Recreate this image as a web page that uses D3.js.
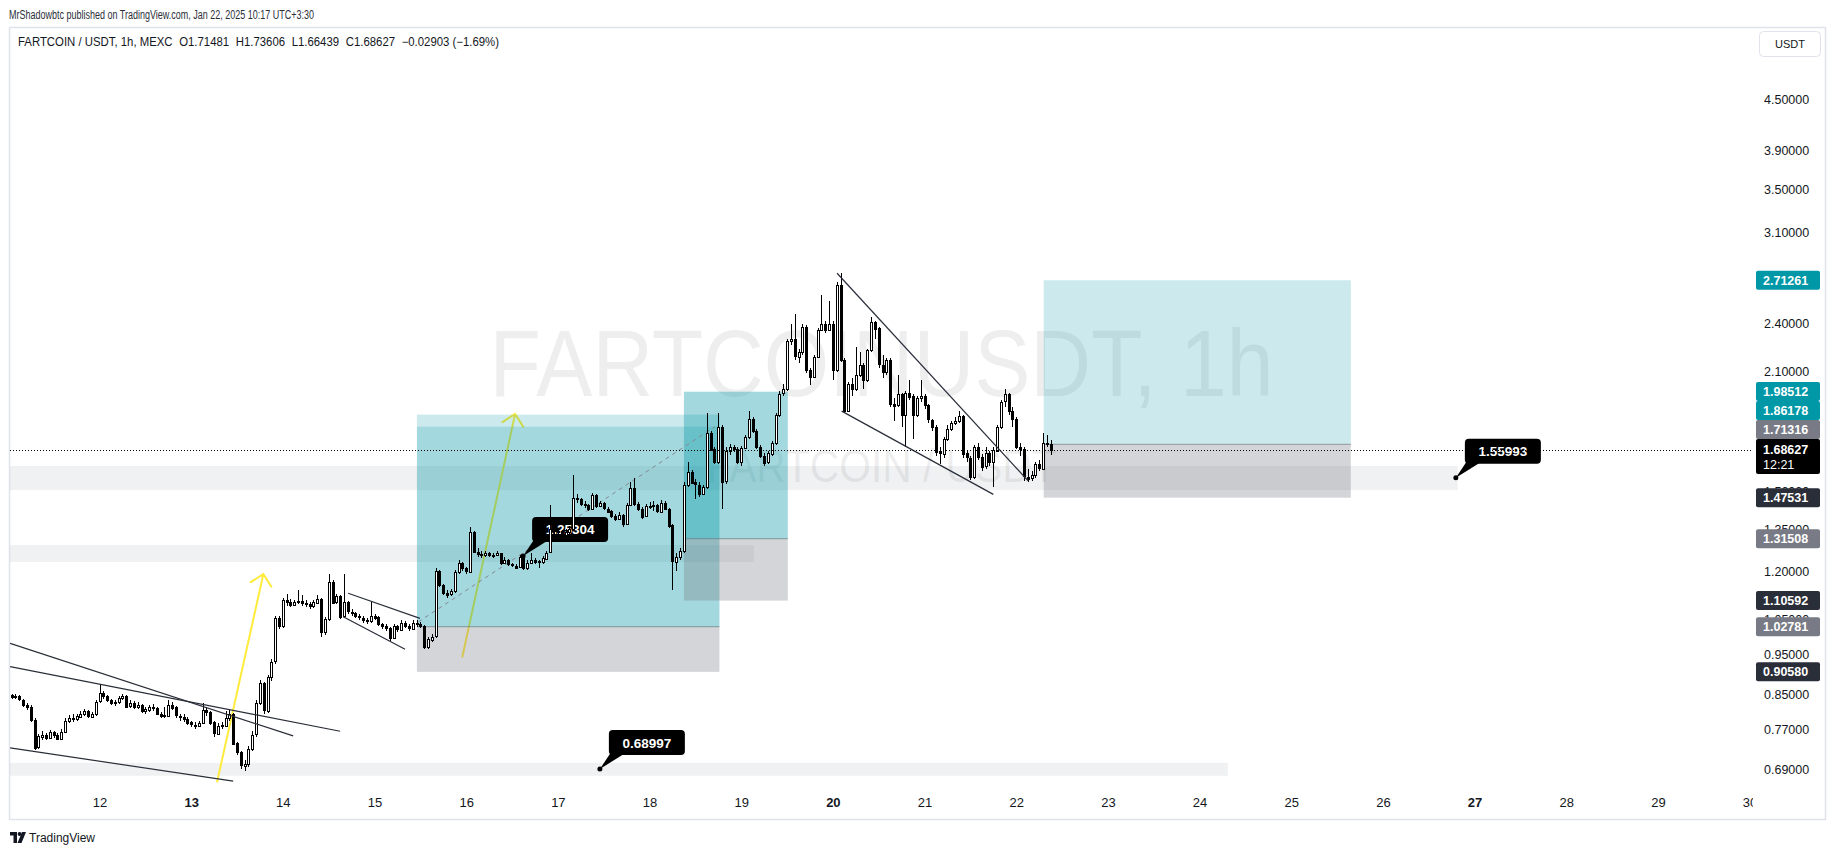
<!DOCTYPE html>
<html><head><meta charset="utf-8">
<script src="https://cdn.jsdelivr.net/npm/d3@7/dist/d3.min.js"></script>
<style>
html,body{margin:0;padding:0;background:#fff;}
svg{display:block;}
text{font-family:"Liberation Sans",Arial,sans-serif;}
</style></head><body>
<svg id="chart" width="1835" height="855"></svg>
<script>
// ================= DATA =================
const publishLine = "MrShadowbtc published on TradingView.com, Jan 22, 2025 10:17 UTC+3:30";
const symbolLine = "FARTCOIN / USDT, 1h, MEXC";
const ohlcLabels = ["O1.71481", "H1.73606", "L1.66439", "C1.68627", "\u22120.02903 (\u22121.69%)"];
const watermarkMain = "FARTCOINUSDT, 1h";
const watermarkSub = "FARTCOIN / USDT";

// hourly candles, first one = 2025-01-11 01:00
const firstCandleUTC = Date.UTC(2025, 0, 11, 1);
const firstOpen = 0.85;
const closes = [
 // Jan 11 (01:00-23:00)
 0.845,0.846,0.838,0.826,0.822,0.792,0.733,0.756,0.760,0.754,0.766,0.760,0.752,0.766,0.790,0.796,0.793,0.800,0.806,0.812,0.800,0.806,0.833,
 // Jan 12
 0.853,0.846,0.836,0.830,0.833,0.842,0.847,0.822,0.830,0.821,0.826,0.812,0.816,0.822,0.819,0.806,0.801,0.802,0.826,0.820,0.801,0.799,0.794,0.786,
 // Jan 13
 0.781,0.779,0.785,0.815,0.810,0.786,0.762,0.779,0.780,0.797,0.806,0.742,0.723,0.697,0.700,0.730,0.760,0.830,0.877,0.812,0.893,0.932,1.052,1.030,
 // Jan 14
 1.107,1.100,1.092,1.100,1.104,1.098,1.094,1.088,1.100,1.112,1.013,1.050,1.166,1.100,1.120,1.057,1.100,1.072,1.068,1.058,1.054,1.048,1.045,1.060,
 // Jan 15
 1.055,1.035,1.030,1.024,0.995,1.030,1.020,1.040,1.030,1.024,1.040,1.036,1.030,0.970,0.992,1.000,1.200,1.155,1.130,1.125,1.135,1.198,1.228,1.210,
 // Jan 16
 1.200,1.341,1.268,1.260,1.255,1.262,1.256,1.254,1.262,1.228,1.240,1.225,1.220,1.214,1.250,1.212,1.230,1.240,1.234,1.230,1.245,1.265,1.350,1.345,
 // Jan 17
 1.340,1.330,1.340,1.352,1.473,1.470,1.450,1.445,1.430,1.486,1.440,1.452,1.430,1.420,1.400,1.390,1.405,1.370,1.445,1.516,1.450,1.430,1.400,1.440,
 // Jan 18
 1.440,1.445,1.420,1.455,1.430,1.365,1.233,1.250,1.270,1.528,1.586,1.540,1.530,1.490,1.520,1.770,1.690,1.630,1.800,1.543,1.680,1.700,1.690,1.630,
 // Jan 19
 1.695,1.750,1.840,1.780,1.700,1.660,1.630,1.670,1.720,1.860,1.975,2.000,2.290,2.300,2.190,2.220,2.380,2.110,2.070,2.190,2.360,2.400,2.360,2.400,
 // Jan 20
 2.110,2.680,2.170,1.880,2.030,2.000,2.080,2.140,2.050,2.230,2.415,2.370,2.140,2.100,2.170,1.920,1.910,1.970,1.860,1.980,1.960,1.860,1.950,1.960,
 // Jan 21
 1.910,1.835,1.800,1.680,1.670,1.740,1.790,1.820,1.830,1.855,1.670,1.650,1.565,1.700,1.655,1.610,1.670,1.630,1.685,1.800,1.930,1.970,1.880,1.840,
 // Jan 22 (00:00-09:00)
 1.700,1.690,1.565,1.555,1.570,1.620,1.600,1.720,1.71481,1.68627
];
const highs = [
 0.852,0.851,0.848,0.840,0.830,0.825,0.795,0.762,0.768,0.764,0.770,0.768,0.763,0.772,0.795,0.802,0.805,0.806,0.812,0.816,0.814,0.810,0.836,
 0.875,0.858,0.850,0.840,0.838,0.846,0.852,0.848,0.836,0.834,0.832,0.828,0.822,0.826,0.828,0.822,0.810,0.820,0.836,0.832,0.824,0.806,0.804,0.798,
 0.790,0.786,0.790,0.830,0.822,0.812,0.790,0.784,0.788,0.812,0.815,0.808,0.745,0.726,0.708,0.735,0.768,0.836,0.885,0.880,0.898,0.940,1.060,1.058,
 1.115,1.125,1.110,1.108,1.140,1.122,1.108,1.102,1.108,1.122,1.115,1.056,1.190,1.170,1.128,1.124,1.190,1.104,1.080,1.072,1.064,1.058,1.054,1.100,
 1.066,1.060,1.040,1.036,1.028,1.036,1.034,1.046,1.044,1.036,1.048,1.046,1.042,1.034,1.000,1.008,1.210,1.205,1.160,1.138,1.142,1.204,1.240,1.232,
 1.215,1.360,1.345,1.280,1.270,1.272,1.268,1.262,1.272,1.264,1.248,1.244,1.230,1.226,1.258,1.254,1.240,1.262,1.246,1.240,1.252,1.272,1.445,1.360,
 1.356,1.348,1.350,1.362,1.570,1.490,1.476,1.460,1.450,1.496,1.490,1.462,1.456,1.436,1.424,1.408,1.416,1.410,1.452,1.540,1.560,1.456,1.436,1.450,
 1.456,1.460,1.450,1.464,1.460,1.434,1.370,1.262,1.282,1.540,1.630,1.592,1.556,1.540,1.530,1.870,1.778,1.700,1.870,1.810,1.700,1.714,1.712,1.700,
 1.706,1.760,1.880,1.850,1.790,1.710,1.672,1.680,1.730,1.872,1.990,2.030,2.300,2.400,2.470,2.240,2.400,2.390,2.120,2.200,2.370,2.600,2.420,2.560,
 2.420,2.700,2.770,2.180,2.040,2.060,2.250,2.220,2.150,2.240,2.450,2.420,2.380,2.200,2.180,2.180,1.950,2.080,1.980,1.990,2.050,1.970,1.960,2.050,
 1.970,1.920,1.840,1.810,1.700,1.750,1.810,1.830,1.850,1.880,1.860,1.680,1.660,1.710,1.720,1.665,1.700,1.680,1.700,1.810,1.940,2.000,1.980,1.900,
 1.850,1.720,1.700,1.600,1.590,1.630,1.640,1.770,1.760,1.73606
];
const lows = [
 0.840,0.840,0.835,0.822,0.815,0.788,0.728,0.729,0.748,0.748,0.750,0.752,0.748,0.750,0.764,0.785,0.786,0.790,0.796,0.800,0.795,0.796,0.800,
 0.830,0.840,0.832,0.826,0.824,0.828,0.836,0.818,0.818,0.817,0.816,0.808,0.806,0.810,0.812,0.802,0.797,0.796,0.798,0.814,0.796,0.790,0.788,0.780,
 0.776,0.772,0.776,0.782,0.800,0.780,0.755,0.758,0.772,0.776,0.790,0.738,0.718,0.690,0.687,0.694,0.726,0.755,0.825,0.806,0.808,0.884,0.925,1.022,
 1.025,1.090,1.085,1.088,1.095,1.090,1.086,1.080,1.084,1.096,1.000,1.005,1.045,1.095,1.096,1.050,1.052,1.066,1.060,1.052,1.046,1.040,1.036,1.040,
 1.048,1.030,1.022,1.016,0.988,0.992,1.012,1.015,1.024,1.016,1.020,1.028,1.024,0.965,0.966,0.985,0.996,1.148,1.122,1.115,1.120,1.130,1.190,1.200,
 1.190,1.196,1.262,1.250,1.245,1.250,1.248,1.246,1.252,1.222,1.224,1.220,1.214,1.208,1.210,1.206,1.206,1.226,1.226,1.210,1.226,1.240,1.262,1.330,
 1.332,1.320,1.326,1.334,1.348,1.455,1.440,1.432,1.420,1.425,1.432,1.436,1.424,1.412,1.392,1.382,1.386,1.360,1.366,1.440,1.442,1.420,1.390,1.396,
 1.430,1.420,1.412,1.416,1.424,1.356,1.140,1.200,1.240,1.262,1.520,1.532,1.470,1.480,1.485,1.510,1.680,1.620,1.620,1.430,1.535,1.664,1.676,1.620,
 1.610,1.690,1.740,1.770,1.690,1.650,1.610,1.620,1.660,1.712,1.850,1.960,1.990,2.260,2.170,2.150,2.200,2.090,2.020,2.060,2.180,2.350,2.340,2.350,
 2.050,2.100,2.160,1.870,1.880,1.960,1.990,2.070,2.000,2.040,2.220,2.300,2.120,2.060,2.080,1.900,1.830,1.900,1.800,1.700,1.940,1.740,1.850,1.930,
 1.890,1.820,1.780,1.660,1.620,1.650,1.730,1.780,1.810,1.820,1.650,1.630,1.550,1.555,1.640,1.590,1.600,1.610,1.520,1.680,1.790,1.900,1.860,1.800,
 1.690,1.660,1.545,1.540,1.545,1.560,1.590,1.600,1.700,1.66439
];

const dayTicks = [12,13,14,15,16,17,18,19,20,21,22,23,24,25,26,27,28,29,30];
const boldDays = [13,20,27];
const priceTicks = [4.5,3.9,3.5,3.1,2.4,2.1,1.5,1.35,1.2,1.05,0.95,0.85,0.77,0.69];
const badgeValues = [2.71261,1.98512,1.86178,1.71316,1.47531,1.31508,1.10592,1.02781,0.90580];
const badgeKinds  = ["target","target","target","entry","stop","entry","stop","entry","stop"];
const lastPrice = 1.68627;
const countdown = "12:21";

// drawings: times in hours from 2025-01-12 00:00, prices in USDT
const zoneTops    = [1.612, 1.292, 0.702];
const zoneBottoms = [1.507, 1.232, 0.677];
const zoneEnds    = [355.6, 171.3, 295.4];
const positions = [
  {from: 83.1,  to: 162.3, target: 1.86178, entry: 1.02781, stop: 0.90580},
  {from: 83.1,  to: 162.3, target: 1.80000, entry: 1.02781, stop: null},
  {from: 153.0, to: 180.2, target: 1.98512, entry: 1.31508, stop: 1.10592},
  {from: 153.0, to: 180.2, target: 1.98512, entry: 1.31508, stop: null},
  {from: 247.2, to: 327.6, target: 2.71261, entry: 1.71316, stop: 1.47531}
];
const trendLines = [
  [[-23.4, 0.981], [50.7, 0.757]],
  [[-23.4, 0.919], [63.0, 0.767]],
  [[-23.4, 0.732], [35.0, 0.667]],
  [[65.1, 1.129], [83.9, 1.052]],
  [[63.8, 1.057], [80.0, 0.965]],
  [[193.1, 2.766], [243.1, 1.547]],
  [[194.3, 1.880], [234.0, 1.489]]
];
const dashedLine = [[83.5, 1.042], [161.1, 1.800]];
const arrows = [
  [[30.8, 0.666], [42.9, 1.191]],
  [[95.0, 0.945], [108.8, 1.865]]
];
const notes = [
  {h: 110.9, price: 1.25304},
  {h: 355.1, price: 1.55993},
  {h: 131.0, price: 0.68997}
];

// ================= SCALES =================
const T0 = Date.UTC(2025, 0, 12);
const x = d3.scaleUtc().domain([new Date(T0), new Date(Date.UTC(2025, 0, 30))]).range([99.5, 1749.6]);
const y = d3.scaleLog().domain([0.69, 4.5]).range([769, 99.5]);
const hx = h => x(new Date(T0 + h * 3600e3));

const PL = 10, PR = 1753, PT = 28, PB = 790;
const svg = d3.select("#chart");
const defs = svg.append("defs");
defs.append("clipPath").attr("id", "plotClip").append("rect")
  .attr("x", PL).attr("y", PT).attr("width", PR - PL).attr("height", PB - PT);
defs.append("clipPath").attr("id", "timeClip").append("rect")
  .attr("x", 0).attr("y", PB).attr("width", PR).attr("height", 30);

// frame
svg.append("rect").attr("x", 9.5).attr("y", 27.5).attr("width", 1816).attr("height", 792)
  .attr("fill", "#fff").attr("stroke", "#e0e3eb").attr("stroke-width", 1.5);

// header
svg.append("text").attr("x", 9).attr("y", 18.5).attr("font-size", 12).attr("fill", "#2a2e39")
  .attr("textLength", 305).attr("lengthAdjust", "spacingAndGlyphs").text(publishLine);
const hdr = svg.append("text").attr("x", 18).attr("y", 45.5).attr("font-size", 12).attr("fill", "#131722")
  .attr("textLength", 481).attr("lengthAdjust", "spacingAndGlyphs");
hdr.append("tspan").text(symbolLine);
ohlcLabels.forEach((s, i) => hdr.append("tspan").attr("dx", 7).text(s));

const plot = svg.append("g").attr("clip-path", "url(#plotClip)");

// watermark
plot.append("text").attr("x", (PL + PR) / 2).attr("y", 396).attr("text-anchor", "middle")
  .attr("font-size", 95).attr("fill", "rgba(120,123,134,0.13)")
  .attr("textLength", 784).attr("lengthAdjust", "spacingAndGlyphs").text(watermarkMain);
plot.append("text").attr("x", (PL + PR) / 2).attr("y", 482).attr("text-anchor", "middle")
  .attr("font-size", 46).attr("fill", "rgba(120,123,134,0.13)")
  .attr("textLength", 350).attr("lengthAdjust", "spacingAndGlyphs").text(watermarkSub);

// zones
zoneTops.forEach((t, i) => {
  plot.append("rect").attr("x", hx(-40)).attr("y", y(t))
    .attr("width", hx(zoneEnds[i]) - hx(-40)).attr("height", y(zoneBottoms[i]) - y(t))
    .attr("fill", "rgba(120,123,134,0.11)");
});

// yellow arrows (under boxes)
arrows.forEach(([a, b]) => {
  const x1 = hx(a[0]), y1 = y(a[1]), x2 = hx(b[0]), y2 = y(b[1]);
  const len = Math.hypot(x1 - x2, y1 - y2);
  const ux = (x1 - x2) / len, uy = (y1 - y2) / len;
  const rot = (ang) => [ux * Math.cos(ang) - uy * Math.sin(ang), ux * Math.sin(ang) + uy * Math.cos(ang)];
  const w1 = rot(Math.PI / 4), w2 = rot(-Math.PI / 4);
  const L = 15;
  plot.append("path")
    .attr("d", `M${x1},${y1}L${x2},${y2}M${x2 + w1[0] * L},${y2 + w1[1] * L}L${x2},${y2}L${x2 + w2[0] * L},${y2 + w2[1] * L}`)
    .attr("fill", "none").attr("stroke", "#ffeb3b").attr("stroke-width", 2).attr("stroke-linecap", "round");
});

// position boxes
positions.forEach(p => {
  const x0 = hx(p.from), x1 = hx(p.to);
  plot.append("rect").attr("x", x0).attr("y", y(p.target)).attr("width", x1 - x0)
    .attr("height", y(p.entry) - y(p.target)).attr("fill", "rgba(0,151,167,0.2)");
  if (p.stop !== null) {
    plot.append("rect").attr("x", x0).attr("y", y(p.entry)).attr("width", x1 - x0)
      .attr("height", y(p.stop) - y(p.entry)).attr("fill", "rgba(120,123,134,0.32)");
    plot.append("line").attr("x1", x0).attr("x2", x1).attr("y1", y(p.entry)).attr("y2", y(p.entry))
      .attr("stroke", "rgba(120,123,134,0.75)").attr("stroke-width", 1);
  }
});

// dashed line
plot.append("line")
  .attr("x1", hx(dashedLine[0][0])).attr("y1", y(dashedLine[0][1]))
  .attr("x2", hx(dashedLine[1][0])).attr("y2", y(dashedLine[1][1]))
  .attr("stroke", "#868993").attr("stroke-width", 1).attr("stroke-dasharray", "4,4");

// notes (callouts)
notes.forEach(n => {
  const ax = hx(n.h), ay = y(n.price);
  const bx = ax + 9, bh = 25, bw = 76, by = ay - 14 - bh;
  const g = plot.append("g");
  g.append("path").attr("d", `M${bx + 1},${by + bh - 1}L${bx + 15},${by + bh - 1}L${ax},${ay}Z`).attr("fill", "#000");
  g.append("rect").attr("x", bx).attr("y", by).attr("width", bw).attr("height", bh).attr("rx", 4).attr("fill", "#000");
  g.append("circle").attr("cx", ax).attr("cy", ay).attr("r", 2.5).attr("fill", "#000");
  g.append("text").attr("x", bx + bw / 2).attr("y", by + 17.5).attr("text-anchor", "middle")
    .attr("font-size", 13.5).attr("font-weight", "bold").attr("fill", "#fff").text(d3.format(".5f")(n.price));
});

// candles
const candles = closes.map((c, i) => ({
  t: new Date(firstCandleUTC + i * 3600e3),
  o: i === 0 ? firstOpen : closes[i - 1], h: highs[i], l: lows[i], c
}));
const cg = plot.append("g").attr("shape-rendering", "crispEdges");
candles.forEach(d => {
  const xc = Math.round(x(d.t));
  const up = d.c >= d.o;
  cg.append("line").attr("x1", xc + 0.5).attr("x2", xc + 0.5).attr("y1", y(d.h)).attr("y2", y(d.l))
    .attr("stroke", "#000").attr("stroke-width", 1);
  const top = y(Math.max(d.o, d.c)), bot = y(Math.min(d.o, d.c));
  cg.append("rect").attr("x", xc - 0.5).attr("y", Math.round(top) + 0.5).attr("width", 2)
    .attr("height", Math.max(1, Math.round(bot - top)))
    .attr("fill", up ? "#fff" : "#000").attr("stroke", "#000").attr("stroke-width", 1);
});

// trend lines
trendLines.forEach(([a, b]) => {
  plot.append("line").attr("x1", hx(a[0])).attr("y1", y(a[1])).attr("x2", hx(b[0])).attr("y2", y(b[1]))
    .attr("stroke", "#2a2e39").attr("stroke-width", 1.2);
});

// current price line
plot.append("line").attr("x1", PL).attr("x2", PR).attr("y1", Math.round(y(lastPrice)) + 0.5).attr("y2", Math.round(y(lastPrice)) + 0.5)
  .attr("stroke", "#000").attr("stroke-width", 1).attr("stroke-dasharray", "1,2");

// time axis
const xAxis = d3.axisBottom(x)
  .tickValues(dayTicks.map(d => new Date(Date.UTC(2025, 0, d))))
  .tickFormat(d3.utcFormat("%-d")).tickSize(0).tickPadding(8);
const gx = svg.append("g").attr("clip-path", "url(#timeClip)").append("g")
  .attr("transform", `translate(0,${PB})`).call(xAxis);
gx.select(".domain").remove();
gx.selectAll("text").attr("font-size", 13).attr("fill", "#131722")
  .attr("font-family", '"Liberation Sans",Arial,sans-serif')
  .attr("font-weight", d => boldDays.includes(d.getUTCDate()) ? "bold" : "normal");

// price axis
const yAxis = d3.axisRight(y).tickValues(priceTicks).tickFormat(d3.format(".5f")).tickSize(0).tickPadding(11);
const gy = svg.append("g").attr("transform", `translate(${PR},0)`).call(yAxis);
gy.select(".domain").remove();
gy.selectAll("text").attr("font-size", 12.5).attr("fill", "#131722")
  .attr("font-family", '"Liberation Sans",Arial,sans-serif');

// badges
const kindColor = {target: "#0097a7", entry: "#787b86", stop: "#2a2e39"};
const lastY = y(lastPrice);
const lastTop = lastY - 11, lastBot = lastY + 24, BH = 19;
const items = badgeValues.map((v, i) => ({v, kind: badgeKinds[i], c: y(v)}));
let limit = lastTop;
items.filter(d => d.c < lastY).sort((a, b) => b.c - a.c).forEach(d => {
  if (d.c + BH / 2 > limit) d.c = limit - BH / 2;
  limit = d.c - BH / 2;
});
limit = lastBot;
items.filter(d => d.c >= lastY).sort((a, b) => a.c - b.c).forEach(d => {
  if (d.c - BH / 2 < limit) d.c = limit + BH / 2;
  limit = d.c + BH / 2;
});
const bg = svg.append("g");
items.forEach(d => {
  bg.append("rect").attr("x", 1756).attr("y", d.c - BH / 2).attr("width", 64).attr("height", BH)
    .attr("rx", 2).attr("fill", kindColor[d.kind]);
  bg.append("text").attr("x", 1763).attr("y", d.c + 4.5).attr("font-size", 12.5).attr("font-weight", 600)
    .attr("fill", "#fff").text(d3.format(".5f")(d.v));
});
bg.append("rect").attr("x", 1756).attr("y", lastTop).attr("width", 64).attr("height", lastBot - lastTop)
  .attr("rx", 2).attr("fill", "#000");
bg.append("text").attr("x", 1763).attr("y", lastY + 4.5).attr("font-size", 12.5).attr("font-weight", 600)
  .attr("fill", "#fff").text(d3.format(".5f")(lastPrice));
bg.append("text").attr("x", 1763).attr("y", lastY + 19.5).attr("font-size", 12.5)
  .attr("fill", "#fff").text(countdown);

// USDT button
svg.append("rect").attr("x", 1759.5).attr("y", 31.5).attr("width", 61).attr("height", 25).attr("rx", 4)
  .attr("fill", "#fff").attr("stroke", "#e0e3eb");
svg.append("text").attr("x", 1790).attr("y", 48).attr("text-anchor", "middle").attr("font-size", 11)
  .attr("fill", "#131722").text("USDT");

// TradingView logo
const logo = svg.append("g").attr("transform", "translate(10,832)").attr("fill", "#131722");
logo.append("path").attr("d", "M0,0H7V11H3.5V3.5H0Z");
logo.append("circle").attr("cx", 9.6).attr("cy", 2).attr("r", 2);
logo.append("path").attr("d", "M12,0H16L11.5,11H7.5Z");
svg.append("text").attr("x", 29).attr("y", 842).attr("font-size", 12).attr("fill", "#131722").text("TradingView");
</script>
</body></html>
